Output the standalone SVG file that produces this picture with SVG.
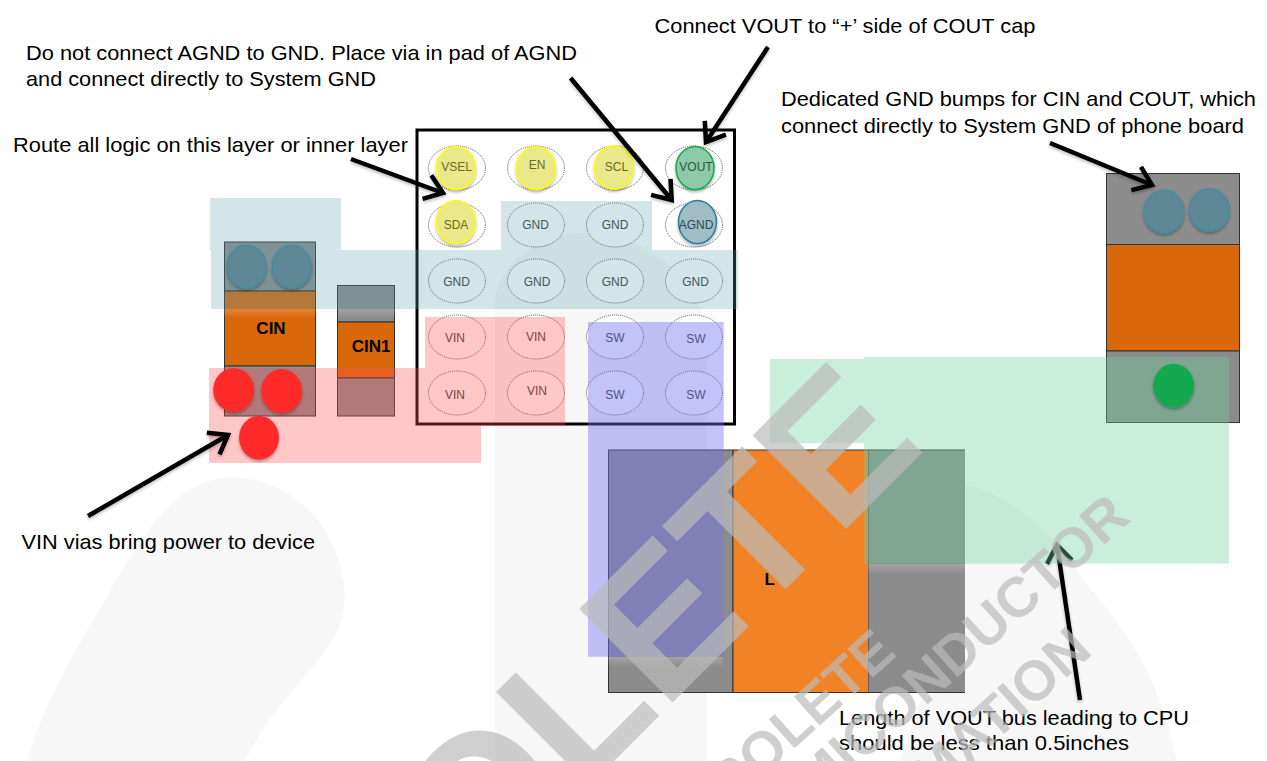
<svg xmlns="http://www.w3.org/2000/svg" width="1267" height="761" viewBox="0 0 1267 761">
<style>
text{font-family:"Liberation Sans",Arial,sans-serif}
.note{font-size:21px;fill:#000}
.lbl{font-size:12px;text-anchor:middle;fill:#3a3a3a}
.pad{fill:#fff;stroke:#555;stroke-width:1;stroke-dasharray:1 1}
.y{fill:#e9e98c;stroke:#ffff00;stroke-width:1.5;filter:url(#sh)}
.yt{fill:#6b6b1e}
.gray{fill:#8c8c8c;stroke:#333;stroke-width:1}
.or{fill:#d9680c;stroke:#333;stroke-width:1}
.teal{fill:#5fa3b0;fill-opacity:.28}
.red{fill:#ff5050;fill-opacity:.32}
.grn{fill:#6dd19e;fill-opacity:.37}
.blu{fill:#7070f0;fill-opacity:.42}
.fade{fill:url(#fw)}
.tv{fill:#5f8896;stroke:#3c8fa8;stroke-width:1.2;filter:url(#sh)}
.rv{fill:#ff2b2b;filter:url(#sh)}
.sw{fill:#f7f7f7}
.ar{fill:none;stroke:#000;stroke-width:4.5;marker-end:url(#ah)}
.wm{font-weight:bold;fill:#bababa;fill-opacity:.7;text-anchor:end}
</style>
<defs>
<marker id="ah" markerUnits="strokeWidth" viewBox="-5 -4 6 8" refX="0" refY="0" markerWidth="6" markerHeight="8" orient="auto" overflow="visible"><path d="M-3.8 -2.8 L0 0 L-3.8 2.8" fill="none" stroke="#000" stroke-width="1"/></marker>
<filter id="sh" x="-20%" y="-20%" width="140%" height="150%"><feDropShadow dx="0" dy="2" stdDeviation="1.5" flood-color="#000" flood-opacity=".3"/></filter>
<filter id="as" filterUnits="userSpaceOnUse" x="0" y="0" width="1267" height="761"><feDropShadow dx="0" dy="2" stdDeviation="1.5" flood-color="#000" flood-opacity=".25"/></filter>
<linearGradient id="fw" x1="0" y1="0" x2="0" y2="1"><stop offset="0" stop-color="#fff" stop-opacity=".2"/><stop offset="1" stop-color="#fff" stop-opacity="0"/></linearGradient>
</defs>
<rect width="1267" height="761" fill="#fff"/>
<g id="logo-background">
<path class="sw" d="M27 761C45 700 75 650 107 597C130 555 150 525 170 505C190 485 215 475 240 478C290 482 335 520 344 583C347 615 340 630 326 650C300 685 270 710 245 761Z"/>
<path class="sw" d="M495 761L495 300C500 260 540 235 580 233C640 232 690 270 707 325L707 761Z"/>
<path class="sw" d="M900 761L955 600L955 483C1010 490 1060 540 1083 580C1110 610 1140 650 1157 693C1165 715 1172 738 1177 761Z"/>
</g>
<g id="CIN">
<rect class="gray" x="224.500" y="242" width="91" height="49"/>
<rect class="or" x="224.500" y="291" width="91" height="75"/>
<rect class="gray" x="224.500" y="366" width="91" height="50"/>
<text x="271" y="334" font-size="17" font-weight="bold" text-anchor="middle">CIN</text>
</g>
<g id="CIN1">
<rect class="gray" x="337.500" y="285.500" width="57" height="36.500"/>
<rect class="or" x="337.500" y="322" width="57" height="56"/>
<rect class="gray" x="337.500" y="378" width="57" height="38"/>
<text x="371" y="352" font-size="17" font-weight="bold" text-anchor="middle">CIN1</text>
</g>
<g id="COUT">
<rect class="gray" x="1106.500" y="173.500" width="133" height="71"/>
<rect class="or" x="1106.500" y="244.500" width="133" height="106.500"/>
<rect class="gray" x="1106.500" y="351" width="133" height="71.500"/>
</g>
<g id="L">
<rect x="608.500" y="450" width="124.500" height="242.500" class="gray"/>
<rect x="733" y="450" width="135.500" height="242.500" fill="#f28226" stroke="#333"/>
<rect x="868.500" y="450" width="96.500" height="242.500" fill="#8c8c8c"/>
<path d="M868.500 450H965M868.500 692.500H965" fill="none" stroke="#333"/>
<text x="764.500" y="585" font-size="17" font-weight="bold">L</text>
</g>
<g id="device-frame"><rect x="417" y="130" width="317.500" height="294" fill="none" stroke="#000" stroke-width="3"/></g>
<g id="pin-VSEL"><ellipse class="pad" cx="457" cy="168" rx="28.500" ry="22"/><ellipse class="y" cx="456" cy="168" rx="19.500" ry="21.500"/><text class="lbl yt" x="456.500" y="171">VSEL</text></g>
<g id="pin-EN"><ellipse class="pad" cx="536" cy="168" rx="28.500" ry="22"/><ellipse class="y" cx="536" cy="168" rx="19.500" ry="21.500"/><text class="lbl yt" x="537" y="169">EN</text></g>
<g id="pin-SCL"><ellipse class="pad" cx="615" cy="168" rx="28.500" ry="22"/><ellipse class="y" cx="614" cy="167.500" rx="19.500" ry="21.500"/><text class="lbl yt" x="616.500" y="171">SCL</text></g>
<g id="pin-VOUT"><ellipse class="pad" cx="694" cy="168" rx="28.500" ry="22"/><ellipse cx="695" cy="168" rx="19" ry="21.500" fill="#8ccaa8" stroke="#14a850" stroke-width="1.500" filter="url(#sh)"/><text class="lbl" x="696" y="171" style="fill:#2a5a40">VOUT</text></g>
<g id="pin-SDA"><ellipse class="pad" cx="457" cy="225" rx="28.500" ry="22"/><ellipse class="y" cx="456" cy="222" rx="19.500" ry="21.500"/><text class="lbl yt" x="456" y="229">SDA</text></g>
<g id="pin-AGND"><ellipse class="pad" cx="694" cy="225" rx="28.500" ry="22"/><ellipse cx="697.500" cy="222" rx="19" ry="21.500" fill="#a0bcc4" stroke="#2a80a0" stroke-width="1.500" filter="url(#sh)"/><text class="lbl" x="696" y="229" style="fill:#2f4a52">AGND</text></g>
<g id="pin-GND1"><ellipse class="pad" cx="536" cy="225" rx="28.500" ry="22"/><text class="lbl" x="535.500" y="229">GND</text></g>
<g id="pin-GND2"><ellipse class="pad" cx="615" cy="225" rx="28.500" ry="22"/><text class="lbl" x="615" y="229">GND</text></g>
<g id="pin-GND3"><ellipse class="pad" cx="457" cy="281" rx="28.500" ry="22"/><text class="lbl" x="456.500" y="286">GND</text></g>
<g id="pin-GND4"><ellipse class="pad" cx="536" cy="281" rx="28.500" ry="22"/><text class="lbl" x="537" y="286">GND</text></g>
<g id="pin-GND5"><ellipse class="pad" cx="615" cy="281" rx="28.500" ry="22"/><text class="lbl" x="615" y="286">GND</text></g>
<g id="pin-GND6"><ellipse class="pad" cx="694" cy="281" rx="28.500" ry="22"/><text class="lbl" x="695.500" y="286">GND</text></g>
<g id="pin-VIN1"><ellipse class="pad" cx="457" cy="337" rx="28.500" ry="22"/><text class="lbl" x="455" y="342">VIN</text></g>
<g id="pin-VIN2"><ellipse class="pad" cx="536" cy="337" rx="28.500" ry="22"/><text class="lbl" x="536" y="341">VIN</text></g>
<g id="pin-SW1"><ellipse class="pad" cx="615" cy="337" rx="28.500" ry="22"/><text class="lbl" x="615" y="342">SW</text></g>
<g id="pin-SW2"><ellipse class="pad" cx="694" cy="337" rx="28.500" ry="22"/><text class="lbl" x="696" y="343">SW</text></g>
<g id="pin-VIN3"><ellipse class="pad" cx="457" cy="393" rx="28.500" ry="22"/><text class="lbl" x="455" y="399">VIN</text></g>
<g id="pin-VIN4"><ellipse class="pad" cx="536" cy="393" rx="28.500" ry="22"/><text class="lbl" x="537" y="395">VIN</text></g>
<g id="pin-SW3"><ellipse class="pad" cx="615" cy="393" rx="28.500" ry="22"/><text class="lbl" x="615" y="399">SW</text></g>
<g id="pin-SW4"><ellipse class="pad" cx="694" cy="393" rx="28.500" ry="22"/><text class="lbl" x="696" y="399">SW</text></g>
<g id="connectors-below" filter="url(#as)">
<line class="ar" x1="1080" y1="700" x2="1057" y2="545"/>
</g>
<g id="copper-areas">
<rect class="teal" x="210" y="198" width="131" height="52"/>
<rect class="teal" x="501" y="201" width="151" height="49"/>
<rect class="teal" x="211" y="250" width="527" height="59"/>
<rect class="fade" x="224" y="309" width="92" height="9"/>
<rect class="fade" x="338" y="309" width="57" height="9"/>
<rect class="red" x="209" y="368" width="272" height="95"/>
<path class="red" d="M425 317H565V426H481V368H425Z"/>
<rect class="blu" x="588" y="322" width="135.700" height="334.700"/>
<rect class="fade" x="608" y="657" width="115" height="10"/>
<rect class="grn" x="770" y="359" width="94" height="84"/>
<rect class="grn" x="864" y="357" width="365" height="206.600"/>
<rect class="fade" x="868" y="564" width="97" height="10"/>
</g>
<g id="vias">
<ellipse class="tv" cx="246.700" cy="266.700" rx="19.500" ry="21.500"/>
<ellipse class="tv" cx="291.800" cy="266.700" rx="19.500" ry="21.500"/>
<ellipse class="rv" cx="233.700" cy="390" rx="20.500" ry="22"/>
<ellipse class="rv" cx="281.700" cy="391" rx="20.500" ry="22"/>
<ellipse class="rv" cx="259" cy="437.700" rx="20" ry="22"/>
<ellipse class="tv" cx="1164" cy="211.700" rx="20" ry="21.500"/>
<ellipse class="tv" cx="1209.300" cy="210" rx="20" ry="21.500"/>
<ellipse cx="1173.700" cy="385.700" rx="20.500" ry="22" fill="#14a850" filter="url(#sh)"/>
</g>
<g id="connectors" filter="url(#as)">
<line class="ar" x1="768" y1="47" x2="706" y2="142"/>
<line class="ar" x1="570.600" y1="78" x2="671.700" y2="200"/>
<line class="ar" x1="351" y1="159" x2="443" y2="193"/>
<line class="ar" x1="1050" y1="143" x2="1152" y2="185"/>
<line class="ar" x1="88" y1="516" x2="228" y2="435"/>
</g>
<g id="notes">
<text class="note" x="26" y="60" textLength="551" lengthAdjust="spacingAndGlyphs">Do not connect AGND to GND. Place via in pad of AGND</text>
<text class="note" x="26" y="86" textLength="350" lengthAdjust="spacingAndGlyphs">and connect directly to System GND</text>
<text class="note" x="13" y="151.500" textLength="395" lengthAdjust="spacingAndGlyphs">Route all logic on this layer or inner layer</text>
<text class="note" x="654.500" y="33" textLength="381" lengthAdjust="spacingAndGlyphs">Connect VOUT to “+’ side of COUT cap</text>
<text class="note" x="781" y="106" textLength="475" lengthAdjust="spacingAndGlyphs">Dedicated GND bumps for CIN and COUT, which</text>
<text class="note" x="781" y="132.700" textLength="463" lengthAdjust="spacingAndGlyphs">connect directly to System GND of phone board</text>
<text class="note" x="21.500" y="549" textLength="293.500" lengthAdjust="spacingAndGlyphs">VIN vias bring power to device</text>
<text class="note" x="839" y="725" textLength="350" lengthAdjust="spacingAndGlyphs">Length of VOUT bus leading to CPU</text>
<text class="note" x="839" y="750" textLength="290" lengthAdjust="spacingAndGlyphs">should be less than 0.5inches</text>
</g>
<g id="watermark">
<text class="wm" font-size="192" transform="translate(927.500 447.500) rotate(-45)">OBSOLETE</text>
<text class="wm" font-size="56" transform="translate(898 655) rotate(-42)">OBSOLETE</text>
<text class="wm" font-size="56" transform="translate(1132 520) rotate(-42)">SEMICONDUCTOR</text>
<text class="wm" font-size="56" transform="translate(1094 653) rotate(-42)">INFORMATION</text>
</g>
</svg>
